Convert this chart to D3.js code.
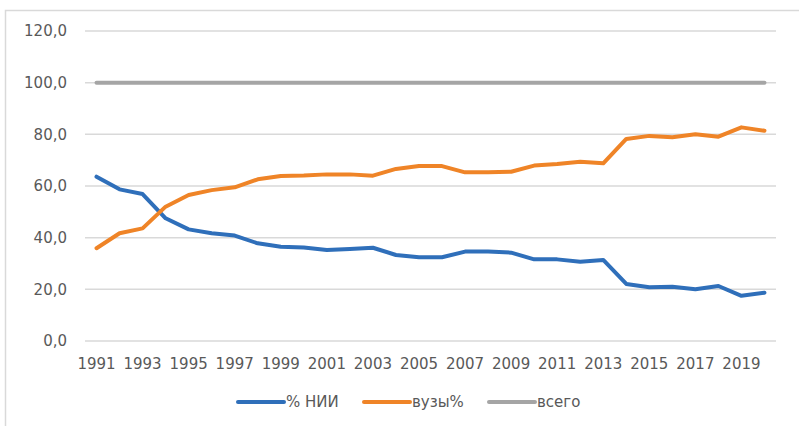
<!DOCTYPE html>
<html><head><meta charset="utf-8">
<script src="https://cdn.jsdelivr.net/npm/d3@7"></script>
<style>
html,body{margin:0;padding:0;background:#fff;}
svg{display:block;}
text{font-family:"DejaVu Sans",sans-serif;fill:#595959;}
</style></head>
<body>
<svg id="chart" width="799" height="426"></svg>
<script>
const years = d3.range(1991, 2021);
const nii = [63.6,58.7,56.9,47.5,43.2,41.7,40.8,37.8,36.5,36.2,35.2,35.6,36.1,33.3,32.4,
             32.4,34.6,34.6,34.2,31.6,31.6,30.7,31.4,22.1,20.8,21.0,20.0,21.3,17.5,18.7];
const vuz = [35.9,41.7,43.6,52.0,56.5,58.4,59.5,62.6,63.9,64.1,64.5,64.5,64.0,66.6,67.7,
             67.7,65.3,65.3,65.5,67.9,68.5,69.4,68.8,78.2,79.4,78.9,80.0,79.1,82.7,81.4];
const total = years.map(() => 100);
const yTicks = [0,20,40,60,80,100,120];
const xTickYears = d3.range(1991, 2020, 2);
const seriesNames = ["% НИИ","вузы%","всего"];
const seriesColors = ["#2f6fba","#ef8427","#a5a5a5"];

const svg = d3.select("#chart");
// outer frame
svg.append("path").attr("d","M5.5,426 V10.5 H799").attr("fill","none")
  .attr("stroke","#d9d9d9").attr("stroke-width",1.5);

const x = d3.scalePoint().domain(years).range([85,776]).padding(0.5);
const y = d3.scaleLinear().domain([0,120]).range([341,31]);

// gridlines
svg.append("g").selectAll("line").data(yTicks).join("line")
  .attr("x1",85).attr("x2",776)
  .attr("y1",d=>y(d)).attr("y2",d=>y(d))
  .attr("stroke","#d9d9d9").attr("stroke-width",1.5);

// y labels
const fmt = d => d.toFixed(1).replace(".",",");
svg.append("g").selectAll("text").data(yTicks).join("text")
  .attr("x",67).attr("y",d=>y(d)).attr("dy","0.36em")
  .attr("text-anchor","end").attr("font-size",15).text(fmt);

// x labels
svg.append("g").selectAll("text").data(xTickYears).join("text")
  .attr("x",d=>x(d)).attr("y",369)
  .attr("text-anchor","middle").attr("font-size",15).text(d=>d);

const line = d3.line().x((d,i)=>x(years[i])).y(d=>y(d));
const allSeries = [nii, vuz, total];
// draw grey first? Order: blue, orange, grey as in Excel
[2,0,1].forEach(k=>{
  svg.append("path").datum(allSeries[k]).attr("d",line)
    .attr("fill","none").attr("stroke",seriesColors[k]).attr("stroke-width",4)
    .attr("stroke-linejoin","round").attr("stroke-linecap","round");
});

// legend
const legX = [237,363,488];
const lg = svg.append("g");
seriesNames.forEach((n,i)=>{
  lg.append("line").attr("x1",legX[i]+1).attr("x2",legX[i]+47)
    .attr("y1",402).attr("y2",402).attr("stroke",seriesColors[i])
    .attr("stroke-width",4).attr("stroke-linecap","round");
  lg.append("text").attr("x",legX[i]+49).attr("y",402).attr("dy","0.36em")
    .attr("font-size",15).text(n);
});
</script>
</body></html>
